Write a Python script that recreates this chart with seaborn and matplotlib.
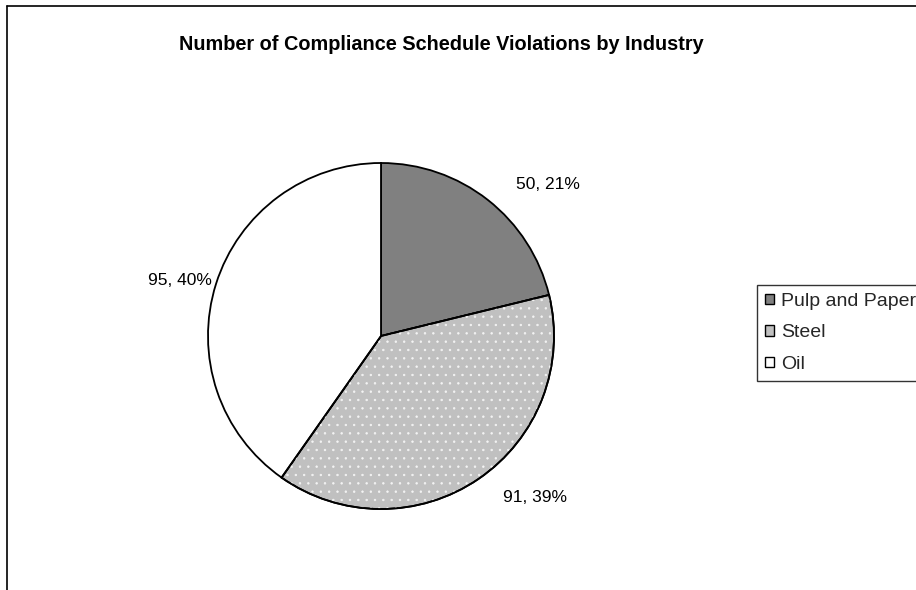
import numpy as np
import matplotlib
matplotlib.use("Agg")
import matplotlib.pyplot as plt
from matplotlib.patches import Wedge, Patch
from matplotlib.lines import Line2D
import seaborn as sns

# Data
industries = ["Pulp and Paper", "Steel", "Oil"]
violations = [50, 91, 95]
slice_colors = ["#808080", "#c0c0c0", "#ffffff"]
title = "Number of Compliance Schedule Violations by Industry"

sns.set_theme(style="white")
plt.rcParams["font.family"] = ["Liberation Sans", "DejaVu Sans"]
plt.rcParams["hatch.linewidth"] = 0.5

W, H = 916, 590
fig = plt.figure(figsize=(W / 100, H / 100), dpi=100)
fig.patch.set_facecolor("white")

# Pie axes: centre at (381, 336) px, radius 173 px
R_PX = 173.0
LIM = 1.4
side = 2 * LIM * R_PX
cx, cy = 381, H - 336
ax = fig.add_axes([(cx - side / 2) / W, (cy - side / 2) / H, side / W, side / H])

wedges, _ = ax.pie(violations, colors=slice_colors, startangle=90, counterclock=False,
                   radius=1.0, wedgeprops=dict(edgecolor="black", linewidth=1.3))
ax.set_xlim(-LIM, LIM)
ax.set_ylim(-LIM, LIM)
ax.set_aspect("equal")
ax.axis("off")

# fine white dot texture on the Steel slice
w = wedges[1]
dots = Wedge(w.center, w.r, w.theta1, w.theta2, facecolor="none",
             edgecolor="#f4f4f4", hatch="..", linewidth=0, zorder=w.get_zorder() + 0.1)
ax.add_patch(dots)
outline = Wedge(w.center, w.r, w.theta1, w.theta2, facecolor="none",
                edgecolor="black", linewidth=1.3, zorder=w.get_zorder() + 0.2)
ax.add_patch(outline)

# value, percentage labels
total = sum(violations)
label_pos = [(42.5, 1.31), (-46.0, 1.28), (164.0, 1.21)]
for v, (ang, dist) in zip(violations, label_pos):
    a = np.deg2rad(ang)
    ax.text(dist * np.cos(a), dist * np.sin(a) - 0.01, f"{v}, {round(100 * v / total)}%",
            ha="center", va="center", fontsize=12.5, color="black")

# title
fig.text(441 / W, 1 - 44 / H, title, ha="center", va="center",
         fontsize=14.3, fontweight="bold", color="black")

# legend
handles = [Patch(facecolor=c, edgecolor="black", linewidth=1.0) for c in slice_colors]
leg = fig.legend(handles, industries, loc="upper left",
                 bbox_to_anchor=(757 / W, 1 - 285 / H), frameon=True,
                 fontsize=14, handlelength=0.45, handleheight=0.45,
                 handletextpad=0.4, labelspacing=0.75, borderpad=0.4,
                 borderaxespad=0.0, fancybox=False)
leg.get_frame().set_edgecolor("black")
leg.get_frame().set_linewidth(1.0)

# chart-area border (top and left)
fig.add_artist(Line2D([7 / W, 1.0], [1 - 6 / H, 1 - 6 / H], color="black", linewidth=1.2,
                      transform=fig.transFigure))
fig.add_artist(Line2D([7 / W, 7 / W], [0.0, 1 - 6 / H], color="black", linewidth=1.2,
                      transform=fig.transFigure))

fig.savefig("out.png", dpi=100, facecolor="white")
